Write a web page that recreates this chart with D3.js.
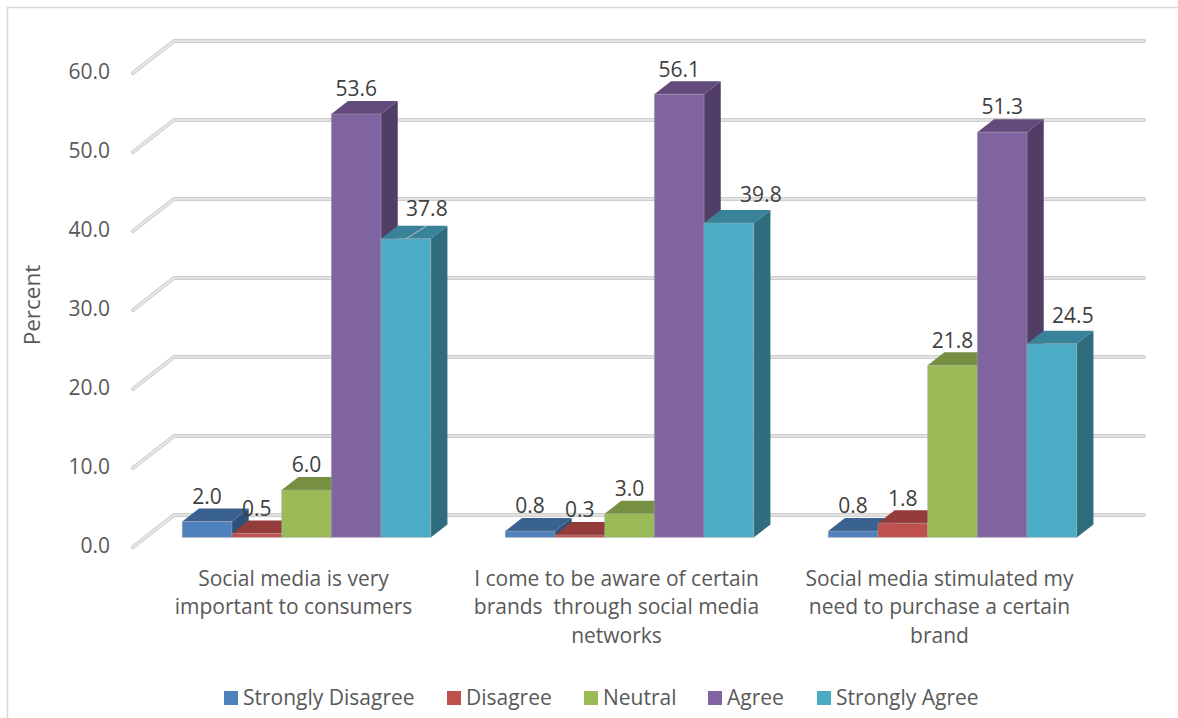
<!DOCTYPE html>
<html><head><meta charset="utf-8">
<script src="https://cdn.jsdelivr.net/npm/d3@7"></script>
<style>html,body{margin:0;background:#fff}svg{display:block}text{font-family:"Open Sans",sans-serif;}</style>
</head><body><div id="c"></div>
<script>
const categories = ["Social media is very important to consumers","I come to be aware of certain brands  through social media networks","Social media stimulated my need to purchase a certain brand"];
const categoryLines = [["Social media is very","important to consumers"],["I come to be aware of certain","brands  through social media","networks"],["Social media stimulated my","need to purchase a certain","brand"]];
const seriesNames = ["Strongly Disagree","Disagree","Neutral","Agree","Strongly Agree"];
const stronglyDisagree = [2.0,0.8,0.8];
const disagree = [0.5,0.3,1.8];
const neutral = [6.0,3.0,21.8];
const agree = [53.6,56.1,51.3];
const stronglyAgree = [37.8,39.8,24.5];
const seriesValues = [stronglyDisagree,disagree,neutral,agree,stronglyAgree];
const tickValues = [0,10,20,30,40,50,60];
const frontColors = ["#4f81bd","#c0504d","#9bbb59","#8064a2","#4bacc6"];
const topColors = ["#3a6291","#933c3a","#768f42","#624b7c","#38839a"];
const sideColors = ["#2f5078","#7a3230","#617636","#513e67","#2f6d7e"];

const W=1178,H=718,dx=42,dy=-32,bdx=16.7,bdy=-13,fs=21;
const svg=d3.select("#c").append("svg").attr("width",W).attr("height",H);
svg.append("path").attr("d","M7.5,718V7.5H1178").attr("fill","none").attr("stroke","#d9d9d9").attr("stroke-width",1.5);
const y=d3.scaleLinear().domain([0,60]).range([547,73]);
const x0=d3.scaleBand().domain(categories).range([145,1114]);
const x1=d3.scaleBand().domain(seriesNames).range([0,x0.bandwidth()]).paddingInner(0).paddingOuter(0.75);
const barBase=537.4, barY=v=>barBase-(y(0)-y(v));

const grid=svg.append("g");
tickValues.forEach(t=>{
  const p=`M133,${y(t)}L${132+dx},${y(t)+dy}H1144`;
  grid.append("path").attr("d",p).attr("fill","none").attr("stroke","#cfcfcf").attr("stroke-width",4).attr("stroke-linecap","round").attr("stroke-linejoin","round");
  grid.append("path").attr("d",p).attr("fill","none").attr("stroke","#e9e9e9").attr("stroke-width",1.6).attr("stroke-linecap","round").attr("stroke-linejoin","round");
});
const axis=d3.axisLeft(y).tickValues(tickValues).tickFormat(d3.format(".1f")).tickSize(0).tickPadding(0);
const ag=svg.append("g").attr("transform","translate(110,-1)").call(axis);
ag.select(".domain").remove();
ag.selectAll("text").attr("font-size",fs).attr("fill","#595959").style("font-family",'"Open Sans",sans-serif');

const bars=svg.append("g");
categories.forEach((c,ci)=>{
  seriesNames.forEach((s,si)=>{
    const v=seriesValues[si][ci],l=x0(c)+x1(s),w=x1.bandwidth(),t=barY(v),b=barBase;
    const g=bars.append("g");
    g.append("path").attr("d",`M${l+w},${b}L${l+w+bdx},${b+bdy}V${t+bdy}L${l+w},${t}Z`).attr("fill",sideColors[si]);
    g.append("path").attr("d",`M${l},${t}L${l+bdx},${t+bdy}H${l+w+bdx}L${l+w},${t}Z`).attr("fill",topColors[si]);
    g.append("rect").attr("x",l).attr("y",t).attr("width",w).attr("height",b-t).attr("fill",frontColors[si]);
    g.append("path").attr("d",`M${l},${b}V${t}H${l+w}V${b}Z`).attr("fill","none").attr("stroke","#a6a6a6").attr("stroke-opacity",.45).attr("stroke-width",1);
  });
});
const labels=svg.append("g");
const nudgeOf=(v)=> v===37.8?[21,-5]:v===39.8?[32,-3]:v===24.5?[21,-3]:[0,0];
categories.forEach((c,ci)=>{
  seriesNames.forEach((s,si)=>{
    const v=seriesValues[si][ci],w=x1.bandwidth(),cx=x0(c)+x1(s)+w/2,t=barY(v),n=nudgeOf(v);
    if(v===37.8) labels.append("line").attr("x1",cx).attr("y1",t).attr("x2",cx+21).attr("y2",t-13).attr("stroke","#bfbfbf").attr("stroke-width",1);
    labels.append("text").attr("x",cx+n[0]).attr("y",t-25+n[1]).attr("dy","0.35em").attr("text-anchor","middle").attr("font-size",fs).attr("fill","#404040").text(d3.format(".1f")(v));
  });
  categoryLines[ci].forEach((ln,li)=>{
    svg.append("text").attr("x",x0(c)+x0.bandwidth()/2-13).attr("y",578.5+li*28.5).attr("dy","0.35em").attr("text-anchor","middle").attr("font-size",fs).attr("fill","#595959").style("white-space","pre").text(ln);
  });
});
svg.append("text").attr("transform","translate(32,305) rotate(-90)").attr("text-anchor","middle").attr("dy","0.35em").attr("font-size",22.5).attr("fill","#595959").text("Percent");
const legendX=[224,447,584,708,817];
seriesNames.forEach((s,i)=>{
  svg.append("rect").attr("x",legendX[i]).attr("y",691).attr("width",14).attr("height",14).attr("fill",frontColors[i]);
  svg.append("text").attr("x",legendX[i]+19).attr("y",697.5).attr("dy","0.35em").attr("font-size",fs).attr("fill","#595959").text(s);
});
</script></body></html>
